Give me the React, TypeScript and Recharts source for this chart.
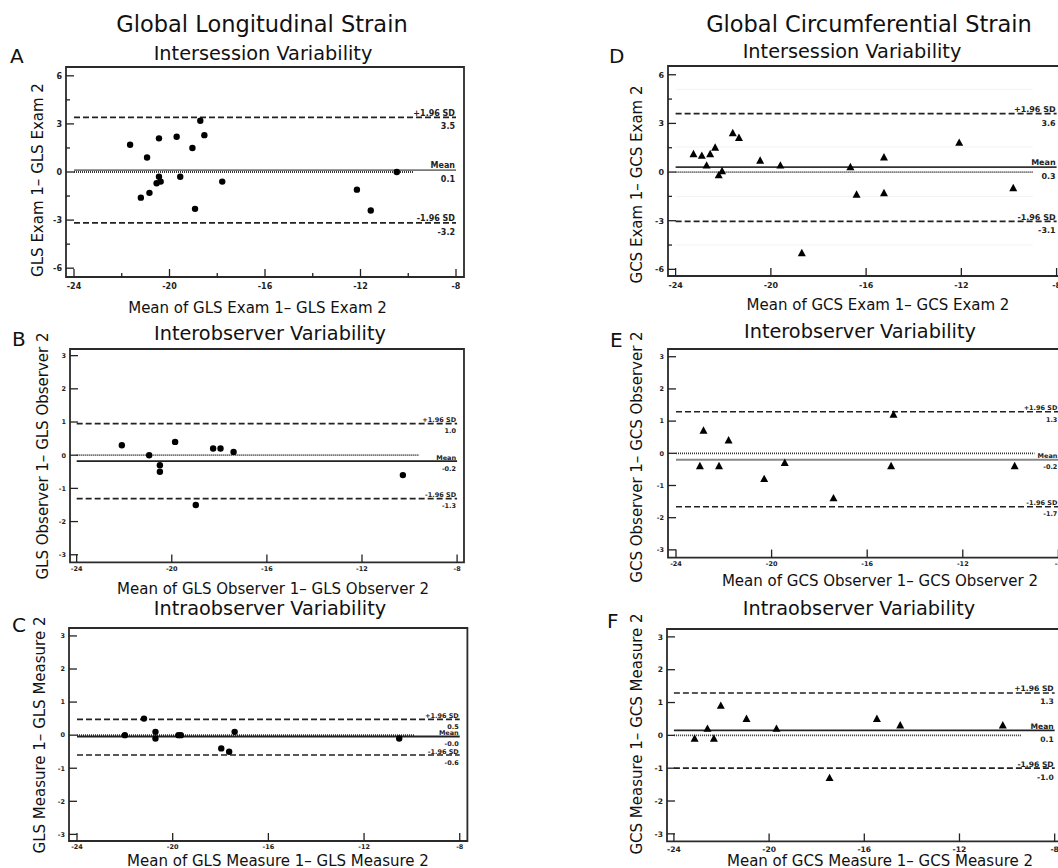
import React from "react";
import { ReferenceArea, ReferenceLine, Scatter, ScatterChart, XAxis, YAxis } from "recharts";

const FONT = "DejaVu Sans, Verdana, sans-serif";

// shared axis ticks
const xTicks = [-24, -20, -16, -12, -8];
const xMinorTicks = [-22, -18, -14, -10];
const yTicksWide = [6, 3, 0, -3, -6];
const yMinorWide = [4.5, 1.5, -1.5, -4.5];
const yTicksNarrow = [3, 2, 1, 0, -1, -2, -3];
const limitNames = ["+1.96 SD", "Mean", "-1.96 SD"];

// A - GLS intersession
const glsExamMean = [-21.65, -20.94, -21.2, -20.84, -20.44, -20.44, -20.54, -20.37, -19.7, -19.55, -19.04, -18.93, -18.71, -18.54, -17.79, -12.15, -11.57, -10.48];
const glsExamDiff = [1.7, 0.9, -1.6, -1.3, 2.1, -0.3, -0.7, -0.6, 2.2, -0.3, 1.5, -2.3, 3.2, 2.3, -0.6, -1.1, -2.4, 0.0];
const glsExamLimits = [3.41, 0.12, -3.17];
const glsExamLimitText = ["3.5", "0.1", "-3.2"];

// B - GLS interobserver
const glsObsMean = [-22.1, -20.95, -20.5, -20.5, -19.86, -18.99, -18.26, -17.95, -17.4, -10.28];
const glsObsDiff = [0.3, 0.0, -0.3, -0.5, 0.4, -1.5, 0.2, 0.2, 0.1, -0.6];
const glsObsLimits = [0.95, -0.18, -1.31];
const glsObsLimitText = ["1.0", "-0.2", "-1.3"];

// C - GLS intraobserver
const glsMeasMean = [-22.0, -21.2, -20.72, -20.72, -19.76, -19.66, -17.97, -17.64, -17.41, -10.53];
const glsMeasDiff = [0.0, 0.5, 0.1, -0.1, 0.0, 0.0, -0.4, -0.5, 0.1, -0.1];
const glsMeasLimits = [0.48, -0.04, -0.6];
const glsMeasLimitText = ["0.5", "-0.0", "-0.6"];

// D - GCS intersession
const gcsExamMean = [-23.25, -22.9, -22.7, -22.55, -22.34, -22.19, -22.05, -21.6, -21.34, -20.45, -19.6, -18.7, -16.66, -16.4, -15.25, -15.25, -12.09, -9.82];
const gcsExamDiff = [1.1, 1.0, 0.4, 1.1, 1.5, -0.2, 0.05, 2.4, 2.1, 0.7, 0.4, -5.0, 0.3, -1.4, 0.9, -1.3, 1.8, -1.0];
const gcsExamLimits = [3.6, 0.31, -3.04];
const gcsExamLimitText = ["3.6", "0.3", "-3.1"];
const gcsExamGrid = [5.1, 1.55, -1.5, -4.5];

// E - GCS interobserver
const gcsObsMean = [-22.85, -23.0, -22.2, -21.8, -20.31, -19.45, -17.41, -14.9, -15.0, -9.83];
const gcsObsDiff = [0.7, -0.4, -0.4, 0.4, -0.8, -0.3, -1.4, 1.2, -0.4, -0.4];
const gcsObsLimits = [1.29, -0.2, -1.66];
const gcsObsLimitText = ["1.3", "-0.2", "-1.7"];

// F - GCS intraobserver
const gcsMeasMean = [-23.13, -22.59, -22.32, -22.03, -20.95, -19.69, -17.46, -15.47, -14.49, -10.18];
const gcsMeasDiff = [-0.1, 0.2, -0.1, 0.9, 0.5, 0.2, -1.3, 0.5, 0.3, 0.3];
const gcsMeasLimits = [1.29, 0.15, -1.0];
const gcsMeasLimitText = ["1.3", "0.1", "-1.0"];

type Panel = {
  fx: number; fy: number; fw: number; fh: number;
  xDomain: [number, number]; yDomain: [number, number];
  yTicks: number[]; yMinor: number[]; xMinor: number[];
  xs: number[]; ys: number[];
  limits: number[]; limitText: string[];
  zeroEnd: number; grid: number[];
  marker: "circle" | "triangle";
  meanColor: string; fs: number; xLabelDy: number;
};

const panels: Panel[] = [
  { fx: 66, fy: 67, fw: 398, fh: 210, xDomain: [-24.335, -7.665], yDomain: [-6.55, 6.55], yTicks: yTicksWide, yMinor: yMinorWide, xMinor: xMinorTicks, xs: glsExamMean, ys: glsExamDiff, limits: glsExamLimits, limitText: glsExamLimitText, zeroEnd: -9.8, grid: [], marker: "circle", meanColor: "#7a7a7a", fs: 8, xLabelDy: 11.5 },
  { fx: 70, fy: 349.3, fw: 394, fh: 213.4, xDomain: [-24.28, -7.71], yDomain: [-3.23, 3.2], yTicks: yTicksNarrow, yMinor: [], xMinor: [], xs: glsObsMean, ys: glsObsDiff, limits: glsObsLimits, limitText: glsObsLimitText, zeroEnd: -9.6, grid: [], marker: "circle", meanColor: "#222", fs: 6.5, xLabelDy: 8.5 },
  { fx: 69.3, fy: 628, fw: 398.4, fh: 213, xDomain: [-24.335, -7.68], yDomain: [-3.2, 3.24], yTicks: yTicksNarrow, yMinor: [], xMinor: [], xs: glsMeasMean, ys: glsMeasDiff, limits: glsMeasLimits, limitText: glsMeasLimitText, zeroEnd: -9.9, grid: [], marker: "circle", meanColor: "#222", fs: 6.5, xLabelDy: 8.5 },
  { fx: 668.3, fy: 66, fw: 396.7, fh: 210, xDomain: [-24.32, -7.66], yDomain: [-6.41, 6.54], yTicks: yTicksWide, yMinor: yMinorWide, xMinor: [], xs: gcsExamMean, ys: gcsExamDiff, limits: gcsExamLimits, limitText: gcsExamLimitText, zeroEnd: -9.0, grid: gcsExamGrid, marker: "triangle", meanColor: "#333", fs: 8, xLabelDy: 12 },
  { fx: 667.5, fy: 348.7, fw: 398.4, fh: 208.6, xDomain: [-24.335, -7.665], yDomain: [-3.24, 3.24], yTicks: yTicksNarrow, yMinor: [], xMinor: [], xs: gcsObsMean, ys: gcsObsDiff, limits: gcsObsLimits, limitText: gcsObsLimitText, zeroEnd: -9.0, grid: [], marker: "triangle", meanColor: "#888", fs: 6.5, xLabelDy: 8.7 },
  { fx: 666.8, fy: 629.3, fw: 395.3, fh: 212.4, xDomain: [-24.29, -7.68], yDomain: [-3.23, 3.24], yTicks: yTicksNarrow, yMinor: [], xMinor: [], xs: gcsMeasMean, ys: gcsMeasDiff, limits: gcsMeasLimits, limitText: gcsMeasLimitText, zeroEnd: -9.4, grid: [], marker: "triangle", meanColor: "#222", fs: 7.6, xLabelDy: 10.8 },
];

const INK = "#222";

const makeXTick = (minor: number[], fs: number, dy: number) => (props: any) => {
  const { x, y, payload } = props;
  const isMinor = minor.includes(payload.value);
  return (
    <g>
      <line x1={x} y1={y} x2={x} y2={y - (isMinor ? 4 : 8)} stroke={INK} strokeWidth={1.3} />
      {!isMinor && (
        <text x={x} y={y + dy} textAnchor="middle" fontSize={fs} fontWeight="bold" fontFamily={FONT} fill={INK}>
          {payload.value}
        </text>
      )}
    </g>
  );
};

const makeYTick = (minor: number[], fs: number) => (props: any) => {
  const { x, y, payload } = props;
  const isMinor = minor.includes(payload.value);
  return (
    <g>
      <line x1={x} y1={y} x2={x + (isMinor ? 4 : 8)} y2={y} stroke={INK} strokeWidth={1.3} />
      {!isMinor && (
        <text x={x - 4} y={y + fs * 0.36} textAnchor="end" fontSize={fs} fontWeight="bold" fontFamily={FONT} fill={INK}>
          {payload.value}
        </text>
      )}
    </g>
  );
};

const limitLabel = (name: string, val: string, fs: number) => (props: any) => {
  const vb = props.viewBox || {};
  const xr = (vb.x ?? 0) + (vb.width ?? 0) - 1;
  const yl = vb.y ?? 0;
  return (
    <g fontFamily={FONT} fontWeight="bold" fontSize={fs} fill={INK}>
      <text x={xr} y={yl - fs * 0.2} textAnchor="end">{name}</text>
      <text x={xr} y={yl + fs * 1.5} textAnchor="end">{val}</text>
    </g>
  );
};

const dotShape = (props: any) => <circle cx={props.cx} cy={props.cy} r={3.2} fill="#000" />;
const triShape = (props: any) => {
  const { cx, cy } = props;
  return <polygon points={`${cx},${cy - 4.4} ${cx - 4},${cy + 3} ${cx + 4},${cy + 3}`} fill="#000" />;
};

function BlandAltman({ p }: { p: Panel }) {
  const W = p.fw + 40;
  const H = p.fh + 25;
  const data = p.xs.map((x, i) => ({ x, y: p.ys[i] }));
  return (
    <div style={{ position: "absolute", left: p.fx - 30, top: p.fy - 5 }}>
      <ScatterChart width={W} height={H} margin={{ top: 5, right: 10, bottom: 0, left: 0 }}>
        <XAxis
          type="number"
          dataKey="x"
          domain={p.xDomain}
          ticks={[...xTicks, ...p.xMinor]}
          interval={0}
          allowDataOverflow
          axisLine={false}
          tickLine={false}
          tickSize={0}
          tickMargin={0}
          height={20}
          tick={makeXTick(p.xMinor, p.fs, p.xLabelDy)}
        />
        <YAxis
          type="number"
          dataKey="y"
          domain={p.yDomain}
          ticks={[...p.yTicks, ...p.yMinor]}
          interval={0}
          allowDataOverflow
          axisLine={false}
          tickLine={false}
          tickSize={0}
          tickMargin={0}
          width={30}
          tick={makeYTick(p.yMinor, p.fs)}
        />
        {p.grid.map((g) => (
          <ReferenceLine key={g} segment={[{ x: -24, y: g }, { x: p.zeroEnd, y: g }]} stroke="#f2f2f2" strokeWidth={1} />
        ))}
        <ReferenceLine segment={[{ x: -24, y: 0 }, { x: p.zeroEnd, y: 0 }]} stroke="#333" strokeWidth={1.8} strokeDasharray="1 1" />
        {p.limits.map((v, i) => (
          <ReferenceLine
            key={i}
            segment={[{ x: -24, y: v }, { x: -8, y: v }]}
            stroke={i === 1 ? p.meanColor : INK}
            strokeWidth={i === 1 ? 1.8 : 1.7}
            strokeDasharray={i === 1 ? undefined : "6 3"}
            label={limitLabel(limitNames[i], p.limitText[i], p.fs)}
          />
        ))}
        <ReferenceArea x1={p.xDomain[0]} x2={p.xDomain[1]} y1={p.yDomain[0]} y2={p.yDomain[1]} fill="none" stroke="#2a2a2a" strokeWidth={1.8} />
        <Scatter data={data} shape={p.marker === "circle" ? dotShape : triShape} isAnimationActive={false} />
      </ScatterChart>
    </div>
  );
}

const txt = { fontFamily: FONT, fill: "#111" };

export default function App() {
  return (
    <div style={{ position: "fixed", left: 0, top: 0, width: 1058, height: 868, overflow: "hidden", background: "#fff" }}>
      {panels.map((p, i) => (
        <BlandAltman key={i} p={p} />
      ))}
      <svg width={1058} height={868} style={{ position: "absolute", left: 0, top: 0, pointerEvents: "none" }}>
        <g {...txt} fontSize={22.5} textAnchor="middle">
          <text x={262} y={31.5}>Global Longitudinal Strain</text>
          <text x={869} y={32}>Global Circumferential Strain</text>
        </g>
        <g {...txt} fontSize={19.3} textAnchor="middle">
          <text x={263} y={60}>Intersession Variability</text>
          <text x={270} y={340}>Interobserver Variability</text>
          <text x={270} y={615}>Intraobserver Variability</text>
          <text x={852} y={57.5}>Intersession Variability</text>
          <text x={860} y={337.5}>Interobserver Variability</text>
          <text x={859} y={615}>Intraobserver Variability</text>
        </g>
        <g {...txt} fontSize={20}>
          <text x={10} y={62.7}>A</text>
          <text x={12} y={346}>B</text>
          <text x={12} y={632}>C</text>
          <text x={609} y={62.7}>D</text>
          <text x={610} y={347.3}>E</text>
          <text x={607} y={628}>F</text>
        </g>
        <g {...txt} fontSize={15} textAnchor="middle">
          <text x={257.5} y={313}>Mean of GLS Exam 1– GLS Exam 2</text>
          <text x={273} y={593.5}>Mean of GLS Observer 1– GLS Observer 2</text>
          <text x={278} y={865.5}>Mean of GLS Measure 1– GLS Measure 2</text>
          <text x={878} y={309.5}>Mean of GCS Exam 1– GCS Exam 2</text>
          <text x={880} y={586}>Mean of GCS Observer 1– GCS Observer 2</text>
          <text x={880} y={865.5}>Mean of GCS Measure 1– GCS Measure 2</text>
          <text transform="translate(43.3,180) rotate(-90)">GLS Exam 1– GLS Exam 2</text>
          <text transform="translate(48.3,456) rotate(-90)">GLS Observer 1– GLS Observer 2</text>
          <text transform="translate(45,735) rotate(-90)">GLS Measure 1– GLS Measure 2</text>
          <text transform="translate(641.7,184.5) rotate(-90)">GCS Exam 1– GCS Exam 2</text>
          <text transform="translate(641.8,457) rotate(-90)">GCS Observer 1– GCS Observer 2</text>
          <text transform="translate(641.8,734) rotate(-90)">GCS Measure 1– GCS Measure 2</text>
        </g>
      </svg>
    </div>
  );
}
